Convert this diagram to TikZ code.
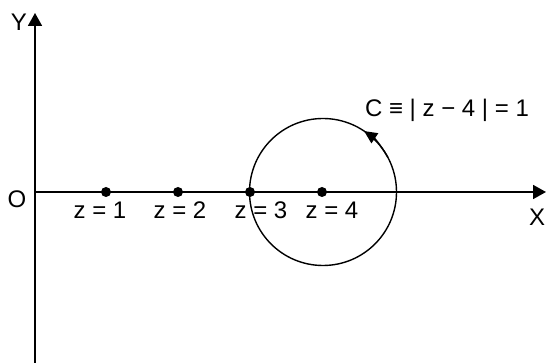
\documentclass[tikz,border=0pt]{standalone}
\usepackage{fontspec}
\setmainfont{Liberation Sans}
\usetikzlibrary{arrows.meta}
\begin{document}
\begin{tikzpicture}[x=1pt,y=1pt,
  axis/.style={line width=1.8pt,-{Triangle[length=13pt,width=14pt]}},
  dotnode/.style={circle,fill=black,inner sep=0pt,minimum size=10pt},
  lbl/.style={inner sep=0pt,font=\fontsize{24}{28}\selectfont},
  circ/.style={line width=1.4pt}]
\useasboundingbox (0,0) rectangle (546,363);
\coordinate (ybot) at (35,0);
\coordinate (ytop) at (35,350);
\coordinate (o) at (35,171);
\coordinate (xend) at (546,171);
\draw[axis] (ybot) -- (ytop);
\draw[axis] (o) -- (xend);
\coordinate (c) at (323,171);
\draw[circ] (c) circle[radius=73.5];
\draw[circ,-{Triangle[length=13pt,width=12pt]}] (c) ++(28:73.5) arc[start angle=28,end angle=56,radius=73.5];
\node[dotnode] (z1) at (106,171) {};
\node[dotnode] (z2) at (178,171) {};
\node[dotnode] (z3) at (250,171) {};
\node[dotnode] (z4) at (322,171) {};
\node[lbl] (l1) at (100,153) {z = 1};
\node[lbl] (l2) at (180,153) {z = 2};
\node[lbl] (l3) at (261,153) {z = 3};
\node[lbl] (l4) at (332,153) {z = 4};
\node[lbl] (lo) at (17,164) {O};
\node[lbl] (lx) at (537,146) {X};
\node[lbl] (ly) at (19,341) {Y};
\node[lbl] (lc) at (447,253) {C ≡ | z − 4 | = 1};
\end{tikzpicture}
\end{document}
